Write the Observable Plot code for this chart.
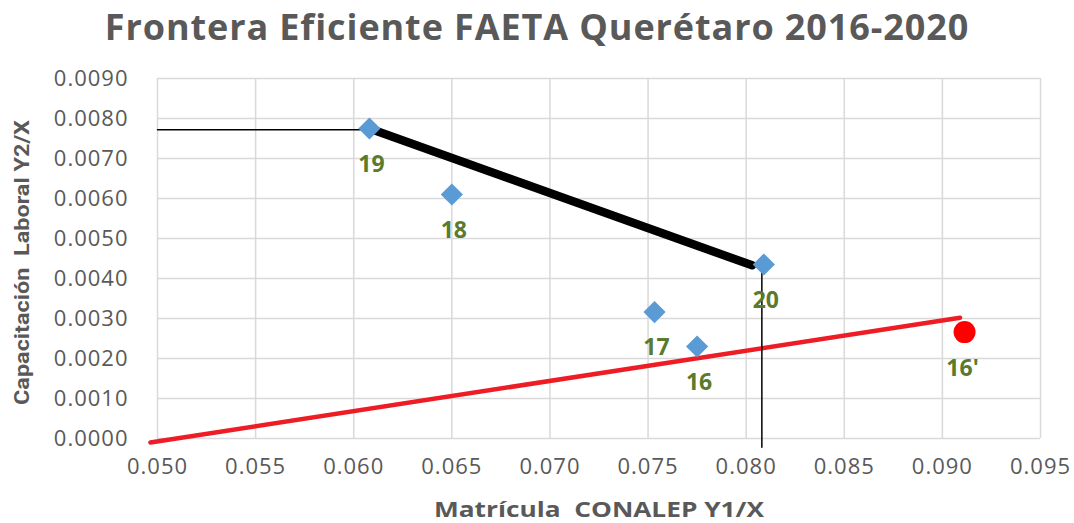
<!DOCTYPE html>
<html>
<head>
<meta charset="utf-8">
<script src="https://cdn.jsdelivr.net/npm/d3@7"></script>
<script src="https://cdn.jsdelivr.net/npm/@observablehq/plot@0.6"></script>
<style>
  body { margin: 0; background: #fff; font-family: "Open Sans", sans-serif; }
  #title { height: 58px; line-height: 54px; text-align: center; font-weight: 700; font-size: 36px; letter-spacing: 0.9px; color: #595959; white-space: nowrap; }
</style>
</head>
<body>
<div id="title">Frontera Eficiente FAETA Querétaro 2016-2020</div>
<div id="chart"></div>
<script>
// Observed years (DEA units)
const labels = ["19", "18", "20", "17", "16"];
const xVals = [0.0608, 0.0650, 0.0809, 0.07533, 0.0775];
const yVals = [0.00775, 0.0061, 0.00435, 0.00316, 0.0023];
// Projected point 16'
const refLabel = ["16'"];
const refX = [0.09113];
const refY = [0.00266];
// Efficient frontier segment (thick black)
const frontierX = [0.0608, 0.0803];
const frontierY = [0.00775, 0.00433];
// Thin reference lines
const hLineX = [0.050, 0.0608];
const hLineY = [0.00772, 0.00772];
const vLineX = [0.0808, 0.0808];
const vLineY = [0.0043, -0.00022];
// Red ray
const redX = [0.04964, 0.0909];
const redY = [-0.0001, 0.00302];
// Ticks
const xTicks = [0.050, 0.055, 0.060, 0.065, 0.070, 0.075, 0.080, 0.085, 0.090, 0.095];
const yTicks = [0, 0.001, 0.002, 0.003, 0.004, 0.005, 0.006, 0.007, 0.008, 0.009];

const pts = labels.map((l, i) => ({label: l, x: xVals[i], y: yVals[i]}));
const ref = refLabel.map((l, i) => ({label: l, x: refX[i], y: refY[i]}));
const seg = (xs, ys) => xs.map((x, i) => ({x, y: ys[i]}));

const gray = "#595959";
const labelColor = "#5a7a2c";

const chart = Plot.plot({
  width: 1074,
  height: 465,
  marginTop: 20,
  marginBottom: 85,
  marginLeft: 157,
  marginRight: 34,
  style: {fontFamily: "Open Sans, sans-serif", fontSize: "22px", color: gray, background: "#fff"},
  x: {domain: [0.05, 0.095]},
  y: {domain: [0, 0.009]},
  marks: [
    Plot.gridX(xTicks, {stroke: "#d9d9d9", strokeOpacity: 1, strokeWidth: 1.5}),
    Plot.gridY(yTicks, {stroke: "#d9d9d9", strokeOpacity: 1, strokeWidth: 1.5}),
    Plot.axisX(xTicks, {tickSize: 0, tickPadding: 20, tickFormat: d3.format(".3f"), label: null, fill: gray}),
    Plot.axisY(yTicks, {tickSize: 0, tickPadding: 29, tickFormat: d3.format(".4f"), label: null, fill: gray}),
    Plot.line(seg(redX, redY), {x: "x", y: "y", stroke: "#ee1c25", strokeWidth: 4.5}),
    Plot.line(seg(hLineX, hLineY), {x: "x", y: "y", stroke: "#000", strokeWidth: 1.5}),
    Plot.line(seg(vLineX, vLineY), {x: "x", y: "y", stroke: "#000", strokeWidth: 1.5}),
    Plot.line(seg(frontierX, frontierY), {x: "x", y: "y", stroke: "#000", strokeWidth: 8.5}),
    Plot.dot(pts, {x: "x", y: "y", symbol: "diamond2", r: 10, fill: "#5b9bd5", stroke: "none"}),
    Plot.dot(ref, {x: "x", y: "y", r: 11, fill: "#ff0000", stroke: "none"}),
    Plot.text(pts, {x: "x", y: "y", text: "label", dy: 36, dx: 2, fill: labelColor, fontWeight: 700, fontSize: 23}),
    Plot.text(ref, {x: "x", y: "y", text: "label", dy: 37, dx: -2, fill: labelColor, fontWeight: 700, fontSize: 23}),
    Plot.text(["Matrícula  CONALEP Y1/X"], {frameAnchor: "bottom", textAnchor: "middle", lineAnchor: "middle", dy: 72, fill: gray, fontWeight: 700, fontSize: 21, className: "xtitle"}),
    Plot.text(["Capacitación  Laboral Y2/X"], {frameAnchor: "left", textAnchor: "middle", lineAnchor: "middle", dx: -135, dy: 4, rotate: -90, fill: gray, fontWeight: 700, fontSize: 21, className: "ytitle", fontFamily: "Liberation Sans Narrow, Roboto, sans-serif"})
  ]
});
document.getElementById("chart").appendChild(chart);
d3.select(chart).selectAll('g[aria-label="x-axis tick label"] text, g[aria-label="y-axis tick label"] text').attr("letter-spacing", "1px");
d3.select(chart).selectAll(".xtitle text").attr("textLength", 330).attr("lengthAdjust", "spacingAndGlyphs");
d3.select(chart).selectAll(".ytitle text").attr("textLength", 285).attr("lengthAdjust", "spacingAndGlyphs");
</script>
</body>
</html>
